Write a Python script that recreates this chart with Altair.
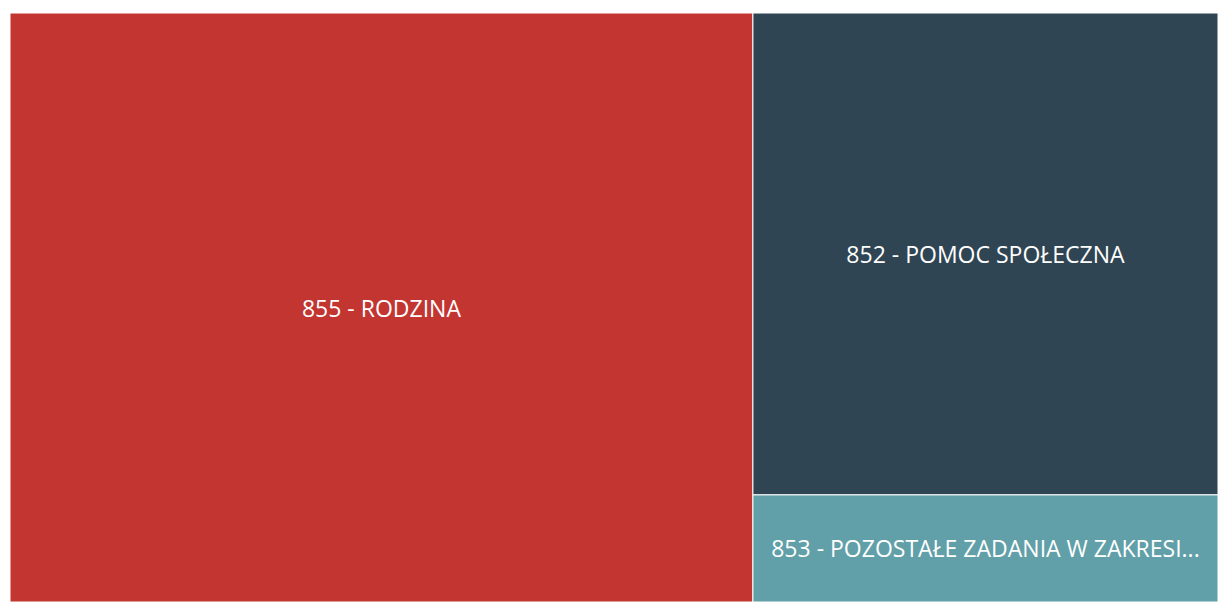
import altair as alt
import pandas as pd

names = [
    "855 - RODZINA",
    "852 - POMOC SPOŁECZNA",
    "853 - POZOSTAŁE ZADANIA W ZAKRESIE POLITYKI SPOŁECZNEJ",
]
values = [61.5, 31.5, 7.0]
columns = [0, 1, 1]
orders = [0, 1, 2]
colors = ["#c23531", "#2f4554", "#61a0a8"]

df = pd.DataFrame({"name": names, "value": values, "col": columns, "ord": orders})

base = alt.Chart(df).transform_joinaggregate(
    total="sum(value)"
).transform_joinaggregate(
    colTotal="sum(value)", groupby=["col"]
).transform_window(
    cum="sum(value)", sort=[alt.SortField("ord")], frame=[None, 0]
).transform_joinaggregate(
    colEnd="max(cum)", groupby=["col"]
).transform_window(
    ycum="sum(value)", groupby=["col"], sort=[alt.SortField("ord")], frame=[None, 0]
).transform_calculate(
    x0="datum.colEnd - datum.colTotal",
    x1="datum.colEnd",
    y0="(datum.ycum - datum.value) / datum.colTotal",
    y1="datum.ycum / datum.colTotal",
    xm="(datum.colEnd - datum.colTotal / 2)",
    ym="(datum.ycum - datum.value / 2) / datum.colTotal",
)

xs = alt.Scale(domain=[0, 100], nice=False, zero=False)
ys = alt.Scale(domain=[1, 0], nice=False, zero=False)

rects = base.mark_rect(stroke="#ffffff", strokeWidth=1).encode(
    x=alt.X("x0:Q", scale=xs, axis=None),
    x2="x1:Q",
    y=alt.Y("y0:Q", scale=ys, axis=None),
    y2="y1:Q",
    color=alt.Color("name:N", scale=alt.Scale(domain=names, range=colors), legend=None),
)

labels = base.mark_text(
    color="#ffffff", fontSize=23, font="Open Sans", align="center", baseline="middle",
    limit=432, ellipsis="...", dy=2
).encode(
    x=alt.X("xm:Q", scale=xs, axis=None),
    y=alt.Y("ym:Q", scale=ys, axis=None),
    text="name:N",
)

chart = (rects + labels).properties(
    width=1208, height=589,
    autosize=alt.AutoSizeParams(type="none"),
    padding={"left": 10, "top": 13, "right": 0, "bottom": 0},
    background="#ffffff",
).configure_view(stroke=None)

chart.save("out.html", embed_options={"renderer": "svg", "actions": False})
